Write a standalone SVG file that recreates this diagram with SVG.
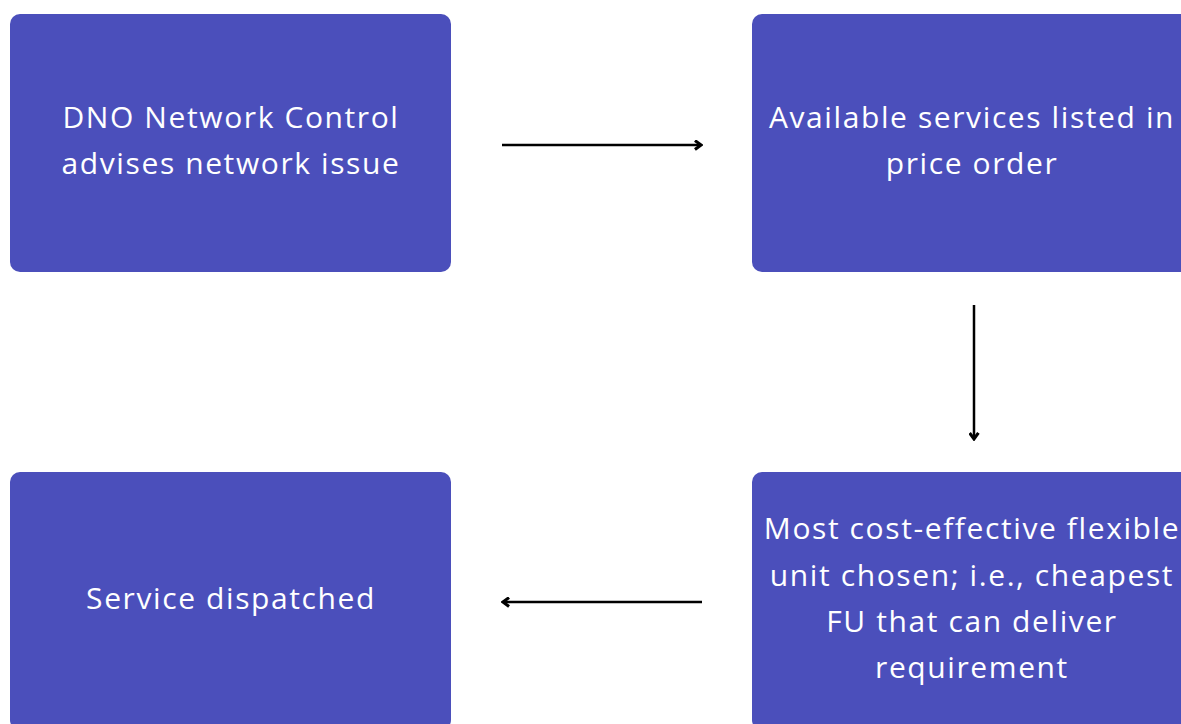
<svg xmlns="http://www.w3.org/2000/svg" width="1181" height="724" viewBox="0 0 1181 724">
  <defs>
    <marker id="chevron" viewBox="0 0 10 10" refX="8" refY="5" markerWidth="4.4" markerHeight="4.4" markerUnits="strokeWidth" orient="auto">
      <path d="M2.5,1 L8,5 L2.5,9" fill="none" stroke="#000" stroke-width="2.8" stroke-linejoin="miter"/>
    </marker>
    <style>
      .box { fill: #4B4FBB; }
      .label { fill: #FFFFFF; font-family: "Open Sans", "Noto Sans", sans-serif; font-size: 30px; text-anchor: middle; letter-spacing: 1.6px; }
      .conn { stroke: #000; stroke-width: 2.5; fill: none; marker-end: url(#chevron); }
    </style>
  </defs>
  <rect width="1181" height="724" fill="#FFFFFF"/>

  <g id="node-dno">
    <rect class="box" x="10" y="14" width="441" height="258" rx="10"/>
    <text class="label" x="231" y="128">DNO Network Control</text>
    <text class="label" x="231" y="174">advises network issue</text>
  </g>

  <g id="node-services">
    <rect class="box" x="752" y="14" width="441" height="258" rx="10"/>
    <text class="label" x="972" y="128">Available services listed in</text>
    <text class="label" x="972" y="174">price order</text>
  </g>

  <g id="node-chosen">
    <rect class="box" x="752" y="472" width="441" height="258" rx="10"/>
    <text class="label" x="972" y="539">Most cost-effective flexible</text>
    <text class="label" x="972" y="586">unit chosen; i.e., cheapest</text>
    <text class="label" x="972" y="632">FU that can deliver</text>
    <text class="label" x="972" y="678">requirement</text>
  </g>

  <g id="node-dispatched">
    <rect class="box" x="10" y="472" width="441" height="258" rx="10"/>
    <text class="label" x="231" y="609">Service dispatched</text>
  </g>

  <g id="connectors">
    <line class="conn" x1="502" y1="145" x2="701" y2="145"/>
    <line class="conn" x1="974" y1="305" x2="974" y2="439"/>
    <line class="conn" x1="702" y1="602" x2="503" y2="602"/>
  </g>
</svg>
